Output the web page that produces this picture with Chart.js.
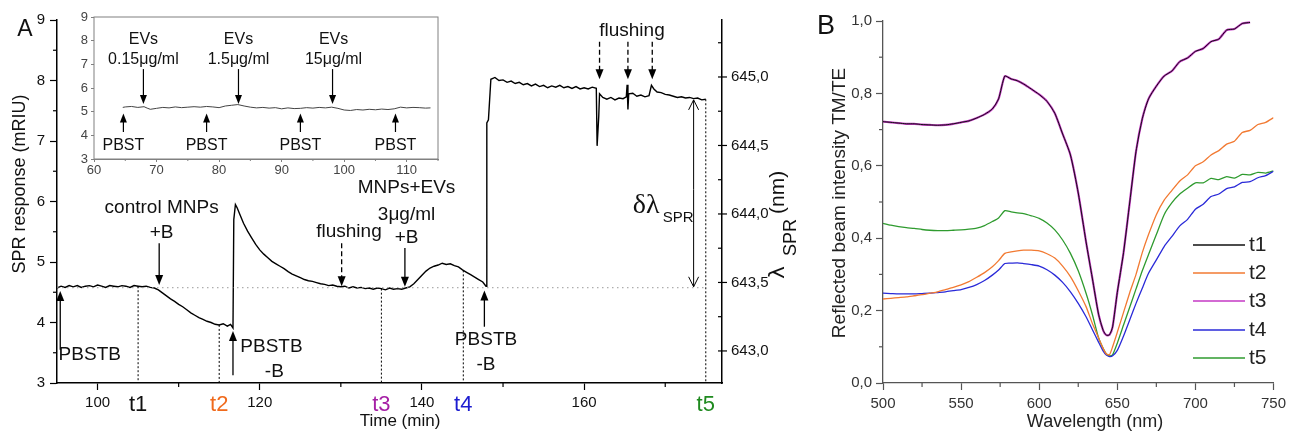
<!DOCTYPE html>
<html><head><meta charset="utf-8">
<script src="https://cdn.jsdelivr.net/npm/chart.js@4.4.0/dist/chart.umd.min.js"></script>
<style>
html,body{margin:0;padding:0;background:#fff;}
#wrap{position:relative;width:1291px;height:434px;overflow:hidden;background:#fff;}
canvas{position:absolute;}
</style></head><body>
<div id="wrap">
<canvas id="cA" width="815" height="434" style="left:0;top:0;width:815px;height:434px"></canvas>
<canvas id="cI" width="390" height="180" style="left:60px;top:5px;width:390px;height:180px"></canvas>
<canvas id="cB" width="476" height="434" style="left:815px;top:0;width:476px;height:434px"></canvas>
</div>
<script>
// ---------- Panel A main trace: time (min) vs SPR response (mRIU) ----------
const timeA = [95.0,95.5,96.0,96.5,97.0,97.5,98.0,98.5,99.0,99.5,100.0,100.5,101.0,101.5,102.0,102.5,103.0,103.5,104.0,104.5,105.0,105.5,106.0,106.5,107.0,107.5,108.0,108.5,109.0,109.5,110.0,110.5,111.0,111.5,112.0,112.5,113.0,113.5,114.0,114.5,115.0,115.5,116.0,116.4,116.7,116.8,117.0,117.2,117.5,118.0,118.5,119.0,119.5,120.0,120.5,121.0,121.5,122.0,122.5,123.0,123.5,124.0,124.5,125.0,125.5,126.0,126.5,127.0,127.5,128.0,128.5,129.0,129.5,130.0,130.5,131.0,131.5,132.0,132.5,133.0,133.5,134.0,134.5,135.0,135.5,136.0,136.5,137.0,137.5,138.0,138.5,139.0,139.5,140.0,140.5,141.0,141.5,142.0,142.5,143.0,143.5,144.0,144.5,145.0,145.5,146.0,146.5,147.0,147.5,147.9,148.0,148.2,148.5,149.0,149.5,150.0,150.5,151.0,151.5,152.0,152.5,153.0,153.5,154.0,154.5,155.0,155.5,156.0,156.5,157.0,157.5,158.0,158.5,159.0,159.5,160.0,160.5,161.0,161.5,161.6,161.8,161.9,162.3,162.8,163.3,163.8,164.3,164.8,165.2,165.3,165.4,165.5,166.0,166.5,167.0,167.5,168.0,168.3,168.6,169.0,169.5,170.0,170.5,171.0,171.5,172.0,172.5,173.0,173.5,174.0,174.5,175.0];
const respA = [4.57,4.60,4.58,4.61,4.59,4.61,4.58,4.60,4.61,4.59,4.62,4.60,4.58,4.61,4.60,4.59,4.61,4.60,4.58,4.61,4.60,4.59,4.60,4.58,4.57,4.54,4.49,4.44,4.39,4.35,4.30,4.26,4.21,4.16,4.12,4.08,4.05,4.02,4.00,3.97,3.96,3.98,3.94,3.97,3.91,5.70,5.95,5.90,5.80,5.64,5.51,5.40,5.29,5.20,5.13,5.07,5.01,4.97,4.93,4.89,4.84,4.80,4.77,4.74,4.71,4.69,4.68,4.66,4.64,4.63,4.61,4.62,4.60,4.59,4.60,4.57,4.59,4.57,4.58,4.56,4.57,4.55,4.57,4.56,4.54,4.57,4.55,4.56,4.55,4.57,4.59,4.64,4.71,4.78,4.85,4.90,4.93,4.95,4.98,4.96,4.97,4.94,4.92,4.87,4.83,4.79,4.75,4.71,4.67,4.60,7.30,7.35,8.02,8.05,8.00,8.01,7.97,7.99,7.95,7.97,7.93,7.95,7.91,7.94,7.90,7.92,7.88,7.91,7.89,7.92,7.88,7.90,7.87,7.90,7.86,7.88,7.86,7.89,7.87,6.92,7.40,7.78,7.72,7.69,7.72,7.68,7.71,7.70,7.73,7.93,7.52,7.78,7.79,7.74,7.76,7.73,7.75,7.92,7.86,7.81,7.80,7.77,7.76,7.74,7.72,7.73,7.71,7.72,7.70,7.71,7.68,7.69];
const ticksTimeA = [100,120,140,160];
const ticksRespA = [3,4,5,6,7,8,9];
const ticksLambda = [643.0,643.5,644.0,644.5,645.0];
const markTimes = [105,115,135,145.1,175];
const markLabels = ['t1','t2','t3','t4','t5'];

// ---------- Inset trace ----------
const timeInset = [64.6,65,66,67,68,68.5,69,70,71,72,73,74,75,76,77,78,79,80,81,82,83,84,85,86,87,88,89,90,91,92,93,94,95,96,97,98,99,100,101,102,103,104,105,106,107,108,109,110,111,112,113,113.8];
const respInset = [5.18,5.20,5.22,5.18,5.21,5.15,5.10,5.14,5.18,5.16,5.20,5.17,5.19,5.21,5.19,5.22,5.20,5.17,5.24,5.27,5.30,5.24,5.19,5.16,5.18,5.15,5.17,5.12,5.16,5.13,5.14,5.17,5.15,5.18,5.16,5.19,5.14,5.07,5.05,5.09,5.07,5.10,5.08,5.11,5.09,5.12,5.19,5.16,5.18,5.17,5.15,5.16];
const ticksTimeInset = [60,70,80,90,100,110];
const ticksRespInset = [3,4,5,6,7,8,9];

// ---------- Panel B spectra ----------
const wl = [500,505,510,515,520,525,530,535,540,545,550,555,560,565,570,574,578,582,586,590,595,600,605,610,615,620,625,630,634,638,641,643,645,647,650,654,658,662,666,670,675,680,685,690,695,700,705,710,715,720,725,730,735,740,745,750];
const specT1 = [.722,.720,.718,.716,.716,.714,.713,.712,.713,.716,.720,.724,.732,.742,.757,.785,.848,.840,.835,.826,.812,.797,.778,.745,.688,.630,.525,.390,.290,.190,.145,.132,.133,.155,.250,.360,.500,.640,.730,.785,.820,.848,.862,.888,.898,.916,.924,.943,.950,.975,.978,.993,.996,null,null,null];
const specT2 = [.232,.234,.236,.238,.241,.244,.248,.252,.258,.264,.271,.280,.292,.305,.321,.338,.358,.362,.365,.367,.367,.365,.357,.345,.323,.294,.255,.211,.165,.125,.095,.080,.078,.100,.140,.195,.250,.300,.360,.410,.465,.505,.532,.558,.575,.600,.611,.630,.642,.660,.668,.692,.698,.714,.720,.733];
const specT3 = [.722,.720,.718,.716,.716,.714,.713,.712,.713,.716,.720,.724,.732,.742,.757,.785,.848,.840,.835,.826,.812,.797,.778,.745,.688,.630,.525,.390,.290,.190,.145,.132,.133,.155,.250,.360,.500,.640,.730,.785,.820,.848,.862,.888,.898,.916,.924,.943,.950,.975,.978,.993,.996,null,null,null];
const specT4 = [.248,.247,.246,.246,.246,.247,.248,.250,.252,.255,.258,.264,.272,.283,.298,.312,.330,.331,.332,.330,.327,.323,.313,.298,.278,.252,.220,.183,.148,.113,.088,.077,.073,.075,.090,.130,.175,.220,.262,.303,.340,.377,.405,.434,.452,.480,.494,.515,.522,.537,.542,.554,.556,.567,.573,.585];
const specT5 = [.441,.436,.432,.429,.427,.424,.422,.421,.421,.422,.423,.425,.428,.435,.446,.456,.476,.473,.470,.468,.462,.455,.442,.423,.395,.358,.310,.248,.190,.125,.095,.080,.075,.078,.110,.160,.210,.260,.310,.355,.410,.465,.498,.522,.538,.553,.553,.565,.562,.570,.566,.576,.575,.582,.580,.586];
const seriesNames = ['t1','t2','t3','t4','t5'];
const ticksWl = [500,550,600,650,700,750];
const ticksInt = [0,0.2,0.4,0.6,0.8,1.0];

// ---------- helpers ----------
const FONT = '"Liberation Sans", Arial, sans-serif';
const COL = {t1:'#111111', t2:'#f27a32', t3:'#c438c4', t4:'#2a2ad8', t5:'#2f9b2f'};
const LABCOL = {t1:'#111111', t2:'#f06a1c', t3:'#a51fa5', t4:'#1c1cd0', t5:'#1f8a1f'};
function txt(ctx, s, x, y, size, o = {}) {
  ctx.save();
  ctx.font = (o.style || '') + ' ' + size + 'px ' + (o.family || FONT);
  ctx.fillStyle = o.color || '#111';
  ctx.textAlign = o.align || 'center';
  ctx.textBaseline = o.baseline || 'middle';
  if (o.rot) { ctx.translate(x, y); ctx.rotate(o.rot); ctx.fillText(s, 0, 0); }
  else ctx.fillText(s, x, y);
  ctx.restore();
}
function varrow(ctx, x, yFrom, yTo, o = {}) {
  const lw = o.lw || 1.3, hl = o.hl || 10, hw = o.hw || 4;
  const dir = Math.sign(yTo - yFrom);
  ctx.save(); ctx.strokeStyle = '#000'; ctx.fillStyle = '#000'; ctx.lineWidth = lw;
  if (o.dash) ctx.setLineDash(o.dash);
  ctx.beginPath(); ctx.moveTo(x, yFrom); ctx.lineTo(x, o.open ? yTo : yTo - dir * hl * 0.8); ctx.stroke();
  ctx.setLineDash([]);
  ctx.beginPath(); ctx.moveTo(x - hw, yTo - dir * hl); ctx.lineTo(x, yTo); ctx.lineTo(x + hw, yTo - dir * hl);
  if (o.open) ctx.stroke(); else { ctx.closePath(); ctx.fill(); }
  ctx.restore();
}
function line(ctx, x1, y1, x2, y2, color, lw, dash) {
  ctx.save(); ctx.strokeStyle = color; ctx.lineWidth = lw; if (dash) ctx.setLineDash(dash);
  ctx.beginPath(); ctx.moveTo(x1, y1); ctx.lineTo(x2, y2); ctx.stroke(); ctx.restore();
}
function interp(xs, ys, t) {
  for (let i = 0; i < xs.length - 1; i++) if (t >= xs[i] && t <= xs[i + 1]) return ys[i] + (ys[i + 1] - ys[i]) * (t - xs[i]) / (xs[i + 1] - xs[i]);
  return ys[ys.length - 1];
}
const fixTicks = arr => s => { s.ticks = arr.map(v => ({ value: v })); };

// ---------- Panel A ----------
const plugA = {
  id: 'plugA',
  afterDraw(chart) {
    const { ctx, scales: { x, y, y2 } } = chart;
    const X = v => x.getPixelForValue(v), Y = v => y.getPixelForValue(v);
    [110, 130, 150, 170].forEach(t => line(ctx, X(t), y.bottom, X(t), y.bottom + 4, '#000', 1.2));
    [3.5, 4.5, 5.5, 6.5, 7.5, 8.5].forEach(v => line(ctx, x.left - 4, Y(v), x.left, Y(v), '#000', 1.2));
    ticksLambda.forEach(v => line(ctx, x.right - 4, y2.getPixelForValue(v), x.right + 5, y2.getPixelForValue(v), '#000', 1.2));
    [643.25, 643.75, 644.25, 644.75, 645.25].forEach(v => line(ctx, x.right - 4, y2.getPixelForValue(v), x.right, y2.getPixelForValue(v), '#000', 1.2));
    line(ctx, x.left, Y(4.575), X(175), Y(4.575), '#9a9a9a', 1, [1.5, 3.5]);
    markTimes.forEach((t, i) => {
      const top = interp(timeA, respA, t);
      line(ctx, X(t), Y(top), X(t), y.bottom, '#000', 1, [2, 2]);
      txt(ctx, markLabels[i], X(t), 405, 22, { color: LABCOL[markLabels[i]] });
    });
    varrow(ctx, X(95.4), Y(3.55), Y(4.52));
    txt(ctx, 'PBSTB', X(95.2), Y(3.46), 19, { align: 'left' });
    txt(ctx, 'control MNPs', X(107.9), Y(5.89), 19);
    txt(ctx, '+B', X(107.9), Y(5.48), 19);
    varrow(ctx, X(107.6), Y(5.31), Y(4.62));
    varrow(ctx, X(116.7), Y(3.13), Y(3.86));
    txt(ctx, 'PBSTB', X(117.6), Y(3.60), 19, { align: 'left' });
    txt(ctx, '-B', X(121.8), Y(3.18), 19);
    txt(ctx, 'flushing', X(131.0), Y(5.50), 19);
    varrow(ctx, X(130.1), Y(5.31), Y(4.60), { dash: [5, 3] });
    txt(ctx, 'MNPs+EVs', X(138.1), Y(6.22), 19);
    txt(ctx, '3\u03bcg/ml', X(138.1), Y(5.78), 19);
    txt(ctx, '+B', X(138.1), Y(5.40), 19);
    varrow(ctx, X(137.9), Y(5.23), Y(4.59));
    varrow(ctx, X(147.7), Y(3.93), Y(4.53));
    txt(ctx, 'PBSTB', X(147.9), Y(3.71), 19);
    txt(ctx, '-B', X(147.9), Y(3.30), 19);
    txt(ctx, 'flushing', X(165.9), Y(8.83), 19);
    [161.9, 165.4, 168.4].forEach(t => varrow(ctx, X(t), Y(8.64), Y(8.02), { dash: [5, 3] }));
    varrow(ctx, X(173.5), Y(6.2), Y(7.68), { open: true, lw: 1, hw: 5, hl: 10 });
    varrow(ctx, X(173.5), Y(6.2), Y(4.59), { open: true, lw: 1, hw: 5, hl: 10 });
    txt(ctx, '\u03b4\u03bb', X(166.0), Y(5.81), 28, { align: 'left', baseline: 'alphabetic', family: '"Liberation Serif", "DejaVu Serif", serif' });
    txt(ctx, 'SPR', X(169.7), Y(5.66), 15, { align: 'left', baseline: 'alphabetic' });
    txt(ctx, 'SPR response (mRIU)', 20, 184, 18, { rot: -Math.PI / 2 });
    txt(ctx, 'Time (min)', 400, 421, 17);
    txt(ctx, 'A', 25, 30, 23);
    ctx.save(); ctx.translate(784, 279); ctx.rotate(-Math.PI / 2);
    ctx.fillStyle = '#111'; ctx.textAlign = 'left'; ctx.textBaseline = 'alphabetic';
    ctx.font = '22px "DejaVu Sans", sans-serif'; ctx.fillText('\u03bb', 0, 0);
    ctx.font = '18px ' + FONT; ctx.fillText('SPR', 23, 12);
    ctx.font = '21px ' + FONT; ctx.fillText('(nm)', 65, 0);
    ctx.restore();
  }
};
new Chart(document.getElementById('cA'), {
  type: 'line',
  data: { datasets: [{ data: timeA.map((t, i) => ({ x: t, y: respA[i] })), borderColor: '#000', borderWidth: 1.4, pointRadius: 0, tension: 0 }] },
  options: {
    animation: false, responsive: false, events: [],
    layout: { padding: { top: 20, left: 0, right: 0, bottom: 0 } },
    plugins: { legend: { display: false }, tooltip: { enabled: false } },
    scales: {
      x: { type: 'linear', min: 95, max: 177, afterBuildTicks: fixTicks(ticksTimeA),
        ticks: { autoSkip: false, maxRotation: 0, padding: 4, color: '#111', font: { size: 15, family: FONT } },
        grid: { drawOnChartArea: false, tickLength: 7, color: '#000', tickWidth: 1.2 },
        border: { color: '#000', width: 1.5 }, afterFit: s => { s.height = 51; } },
      y: { position: 'left', min: 3, max: 9, afterBuildTicks: fixTicks(ticksRespA),
        ticks: { autoSkip: false, padding: 5, color: '#111', font: { size: 15, family: FONT } },
        grid: { drawOnChartArea: false, tickLength: 7, color: '#000', tickWidth: 1.2 },
        border: { color: '#000', width: 1.5 }, afterFit: s => { s.width = 57; } },
      y2: { position: 'right', min: 642.766, max: 645.416, afterBuildTicks: fixTicks(ticksLambda),
        ticks: { autoSkip: false, padding: 9, color: '#111', font: { size: 15, family: FONT }, callback: v => Number(v).toFixed(1).replace('.', ',') },
        grid: { drawOnChartArea: false, drawTicks: false },
        border: { color: '#000', width: 1.5 }, afterFit: s => { s.width = 93; } }
    }
  },
  plugins: [plugA]
});

// ---------- Inset ----------
const plugI = {
  id: 'plugI',
  beforeDatasetsDraw(chart) { const c = chart.ctx, a = chart.chartArea; c.save(); c.fillStyle = '#fff'; c.fillRect(a.left, a.top, a.right - a.left, a.bottom - a.top); c.restore(); },
  afterDraw(chart) {
    const { ctx, chartArea: a, scales: { x, y } } = chart;
    const X = v => x.getPixelForValue(v), Y = v => y.getPixelForValue(v);
    ctx.save(); ctx.strokeStyle = '#808080'; ctx.lineWidth = 1; ctx.strokeRect(a.left, a.top, a.right - a.left, a.bottom - a.top); ctx.restore();
    [65, 75, 85, 95, 105, 115].forEach(t => line(ctx, X(t), a.bottom, X(t), a.bottom + 2, '#808080', 1));
    const evs = [[67.9, '0.15\u03bcg/ml'], [83.1, '1.5\u03bcg/ml'], [98.3, '15\u03bcg/ml']];
    evs.forEach(([t, s]) => {
      txt(ctx, 'EVs', X(t), Y(8.06), 16);
      txt(ctx, s, X(t), Y(7.22), 16);
      varrow(ctx, X(t) - (t > 95 ? 1 : 0), Y(6.80), Y(5.32), { hl: 9, hw: 3.5, lw: 1.2 });
    });
    [64.7, 78.0, 93.0, 108.2].forEach(t => {
      varrow(ctx, X(t), Y(4.14), Y(4.92), { hl: 9, hw: 3.5, lw: 1.2 });
      txt(ctx, 'PBST', X(t), Y(3.55), 16);
    });
  }
};
new Chart(document.getElementById('cI'), {
  type: 'line',
  data: { datasets: [{ data: timeInset.map((t, i) => ({ x: t, y: respInset[i] })), borderColor: '#444', borderWidth: 1, pointRadius: 0, tension: 0 }] },
  options: {
    animation: false, responsive: false, events: [],
    layout: { padding: { top: 12, right: 12, left: 0, bottom: 0 } },
    plugins: { legend: { display: false }, tooltip: { enabled: false } },
    scales: {
      x: { type: 'linear', min: 60, max: 115, afterBuildTicks: fixTicks(ticksTimeInset),
        ticks: { autoSkip: false, maxRotation: 0, padding: 1, color: '#444', font: { size: 13, family: FONT } },
        grid: { drawOnChartArea: false, tickLength: 3, color: '#808080' },
        border: { color: '#808080', width: 1 }, afterFit: s => { s.height = 26; } },
      y: { min: 3, max: 9, afterBuildTicks: fixTicks(ticksRespInset),
        ticks: { autoSkip: false, padding: 3, color: '#444', font: { size: 13, family: FONT } },
        grid: { drawOnChartArea: false, tickLength: 3, color: '#808080' },
        border: { color: '#808080', width: 1 }, afterFit: s => { s.width = 34; } }
    }
  },
  plugins: [plugI]
});

// ---------- Panel B ----------
const plugB = {
  id: 'plugB',
  afterDraw(chart) {
    const { ctx, chartArea: a, scales: { x, y } } = chart;
    [525, 575, 625, 675, 725].forEach(v => line(ctx, x.getPixelForValue(v), a.bottom, x.getPixelForValue(v), a.bottom + 4, '#555', 1.2));
    [0.1, 0.3, 0.5, 0.7, 0.9].forEach(v => line(ctx, a.left - 4, y.getPixelForValue(v), a.left, y.getPixelForValue(v), '#555', 1.2));
    const ly = [245, 273, 301, 330, 358];
    seriesNames.forEach((n, i) => {
      line(ctx, 378, ly[i], 430, ly[i], COL[n], 1.6);
      txt(ctx, n, 434, ly[i], 21, { align: 'left', color: '#222' });
    });
    txt(ctx, 'Reflected beam intensity TM/TE', 25, 203, 19, { rot: -Math.PI / 2, color: '#222' });
    txt(ctx, 'Wavelength (nm)', 280, 422, 18, { color: '#222' });
    txt(ctx, 'B', 11, 27, 27, { color: '#111' });
  }
};
const mk = (vals, color, w) => ({ data: wl.map((v, i) => ({ x: v, y: vals[i] })), borderColor: color, borderWidth: w, pointRadius: 0, tension: 0.2, spanGaps: false });
new Chart(document.getElementById('cB'), {
  type: 'line',
  data: { datasets: [mk(specT1, COL.t1, 1.0), mk(specT2, COL.t2, 1.3), mk(specT3, COL.t3, 2.2), mk(specT4, COL.t4, 1.3), mk(specT5, COL.t5, 1.3)] },
  options: {
    animation: false, responsive: false, events: [],
    layout: { padding: { top: 21, right: 15, left: 0, bottom: 0 } },
    plugins: { legend: { display: false }, tooltip: { enabled: false } },
    scales: {
      x: { type: 'linear', min: 500, max: 750, afterBuildTicks: fixTicks(ticksWl),
        ticks: { autoSkip: false, maxRotation: 0, padding: 5, color: '#333', font: { size: 15, family: FONT } },
        grid: { drawOnChartArea: false, tickLength: 7, color: '#555', tickWidth: 1.2 },
        border: { color: '#555', width: 1.3 }, afterFit: s => { s.height = 51; } },
      y: { min: 0, max: 1, afterBuildTicks: fixTicks(ticksInt),
        ticks: { autoSkip: false, padding: 4, color: '#333', font: { size: 15, family: FONT }, callback: v => Number(v).toFixed(1).replace('.', ',') },
        grid: { drawOnChartArea: false, tickLength: 7, color: '#555', tickWidth: 1.2 },
        border: { color: '#555', width: 1.3 }, afterFit: s => { s.width = 68; } }
    }
  },
  plugins: [plugB]
});
</script>
</body></html>
